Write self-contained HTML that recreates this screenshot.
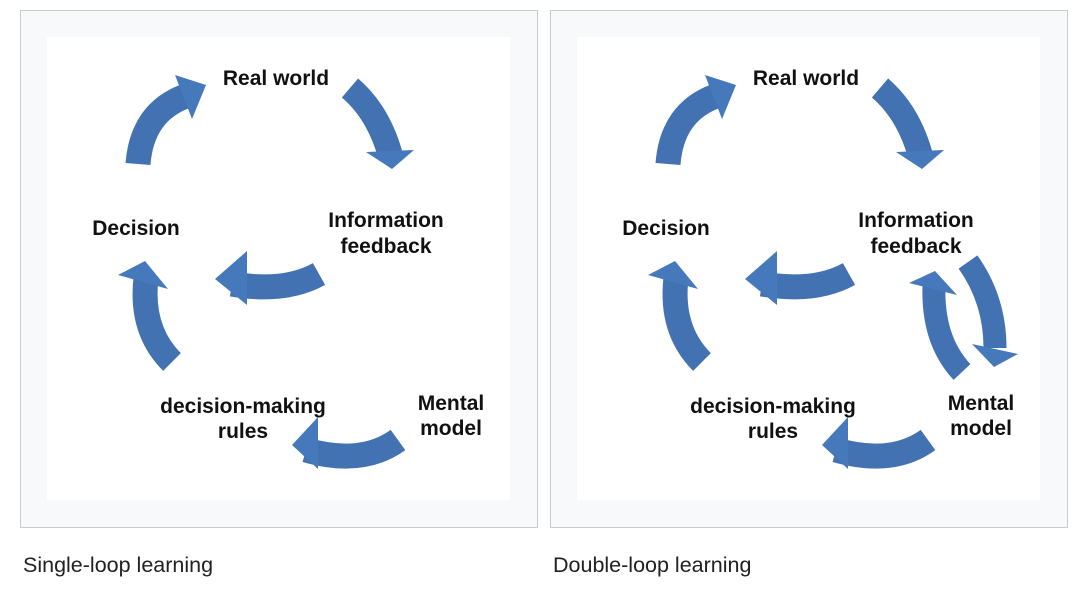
<!DOCTYPE html>
<html><head><meta charset="utf-8"><style>
html,body{margin:0;padding:0;background:#fff;width:1080px;height:598px;overflow:hidden}
svg{display:block}
text{font-family:"Liberation Sans",Arial,sans-serif}
.l{font-weight:bold;font-size:21px;fill:#111;text-anchor:middle}
.c{font-size:21.5px;fill:#202122}
</style></head><body>
<svg width="1080" height="598" viewBox="0 0 1080 598">
<defs>
<g id="base">
<rect x="20.5" y="10.5" width="517" height="517" fill="#f8f9fa" stroke="#c8ccd1"/>
<rect x="47" y="37" width="463" height="463" fill="#fff"/>
<g fill="none" stroke="#4272b2" stroke-width="25">
<path d="M138,164 Q142,112 186,96"/>
<path d="M350,88 Q378,112 390,154"/>
<path d="M319,274 Q285,293 232,284"/>
<path d="M172,362 Q140,330 146,278"/>
<path d="M398,440 Q362,466 306,450"/>
</g>
<g fill="#4579bb">
<polygon points="175,75 206,85 192,119"/>
<polygon points="366,152 414,150 392,169"/>
<polygon points="247,251 215,279 247,305"/>
<polygon points="118,275 145,261 168,289"/>
<polygon points="318,417 292,445 318,469"/>
</g>
<text class="l" x="276" y="85">Real world</text>
<text class="l" x="136" y="235">Decision</text>
<text class="l" x="386" y="227">Information</text>
<text class="l" x="386" y="253">feedback</text>
<text class="l" x="243" y="413">decision-making</text>
<text class="l" x="243" y="438">rules</text>
<text class="l" x="451" y="410">Mental</text>
<text class="l" x="451" y="435">model</text>
</g>
</defs>
<use href="#base"/>
<use href="#base" x="530"/>
<g fill="none" stroke="#4272b2" stroke-width="23">
<path d="M968,262 Q995,300 995,348"/>
<path d="M962,372 Q932,340 934,285"/>
</g>
<g fill="#4579bb">
<polygon points="972,344 1018,354 994,367"/>
<polygon points="909,283 935,271 957,295"/>
</g>
<text class="c" x="23" y="572">Single-loop learning</text>
<text class="c" x="553" y="572">Double-loop learning</text>
</svg>
</body></html>
